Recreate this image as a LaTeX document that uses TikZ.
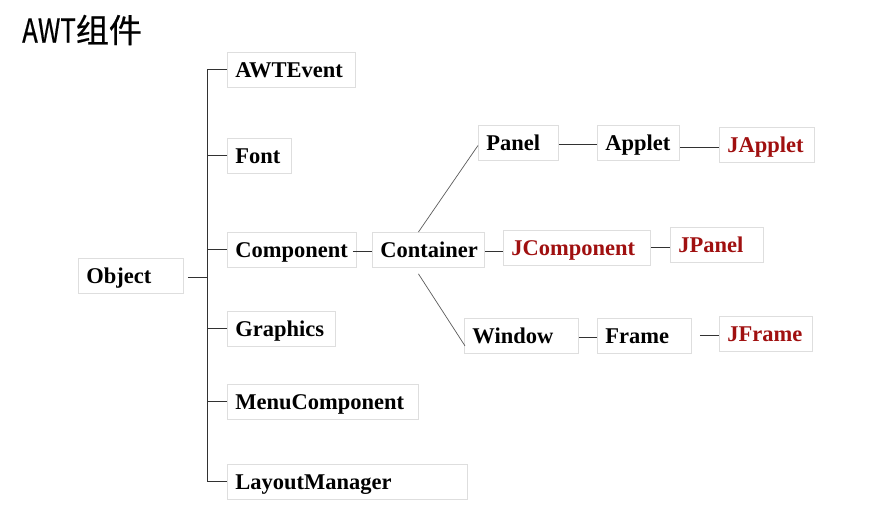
\documentclass[tikz,border=0pt]{standalone}
\usepackage{fontspec}
\usepackage{graphicx}
\setmainfont{Liberation Serif}
\newfontfamily\cjk[FakeBold=0.6]{Noto Sans CJK SC}
\usetikzlibrary{calc}
\definecolor{boxgray}{RGB}{222,222,222}
\definecolor{jred}{RGB}{160,16,16}
\definecolor{linegray}{RGB}{50,50,50}
\tikzset{
  box/.style={draw=boxgray, line width=0.9pt, fill=white, anchor=north west,
    minimum height=35pt, inner xsep=8pt, inner ysep=0pt, align=left,
    text height=19pt, text depth=3pt,
    font=\fontsize{22.5}{26}\selectfont\bfseries, text=black},
  jbox/.style={box, text=jred},
  link/.style={draw=linegray, line width=1pt},
  diag/.style={draw=linegray!80, line width=0.7pt},
}
\begin{document}
\begin{tikzpicture}[x=1pt,y=-1pt]
\useasboundingbox (0,0) rectangle (870,512);
\node[anchor=west, inner sep=0pt, font=\cjk\fontsize{33}{36}\selectfont] (title) at (22,30) {\scalebox{0.78}[1]{AWT}组件};

\node[box, text width=89pt] (Object) at (78,258) {Object};
\node[box, text width=112pt] (AWTEvent) at (227,52) {AWTEvent};
\node[box, text width=48pt] (Font) at (227,138) {Font};
\node[box, text width=113pt] (Component) at (227,232) {Component};
\node[box, text width=92pt] (Graphics) at (227,311) {Graphics};
\node[box, text width=175pt] (MenuComponent) at (227,384) {MenuComponent};
\node[box, text width=224pt] (LayoutManager) at (227,464) {LayoutManager};

\node[box, text width=96pt] (Container) at (372,232) {Container};
\node[jbox, text width=131pt] (JComponent) at (503,230) {JComponent};
\node[jbox, text width=77pt] (JPanel) at (670,227) {JPanel};

\node[box, text width=64pt] (Panel) at (478,125) {Panel};
\node[box, text width=66pt] (Applet) at (597,125) {Applet};
\node[jbox, text width=79pt] (JApplet) at (719,127) {JApplet};

\node[box, text width=98pt] (Window) at (464,318) {Window};
\node[box, text width=78pt] (Frame) at (597,318) {Frame};
\node[jbox, text width=77pt] (JFrame) at (719,316) {JFrame};

\coordinate (trunk) at (207,70);
\draw[link] (Object.east) ++(4,2) -- ($(Object.east -| trunk)+(0,2)$);
\draw[link] (AWTEvent.west) -- (AWTEvent.west -| trunk) -- (LayoutManager.west -| trunk) -- (LayoutManager.west);
\foreach \n in {Font,Component,Graphics,MenuComponent}
  \draw[link] (\n.west) -- (\n.west -| trunk);

\draw[link] ($(Component.east)+(-4,2)$) -- ($(Container.west |- Component.east)+(0,2)$);
\draw[link] ($(Container.east)+(0,2)$) -- ($(JComponent.west |- Container.east)+(0,2)$);
\draw[link] ($(JComponent.east)+(0,-0.5)$) -- ($(JPanel.west |- JComponent.east)+(0,-0.5)$);
\draw[link] ($(Panel.east)+(0,1.5)$) -- ($(Applet.west |- Panel.east)+(0,1.5)$);
\draw[link] ($(Applet.east)+(0,4.5)$) -- ($(JApplet.west |- Applet.east)+(0,4.5)$);
\draw[link] ($(Window.east)+(0,1.5)$) -- ($(Frame.west |- Window.east)+(0,1.5)$);
\draw[link] ($(Frame.east)+(8,-0.5)$) -- ($(JFrame.west |- Frame.east)+(0,-0.5)$);

\draw[diag] ($(Container.north)+(-10,0)$) -- ($(Panel.west)+(0,2.5)$);
\draw[diag] ($(Container.south)+(-10,6)$) -- ($(Window.south west)+(1,-8)$);
\end{tikzpicture}
\end{document}
